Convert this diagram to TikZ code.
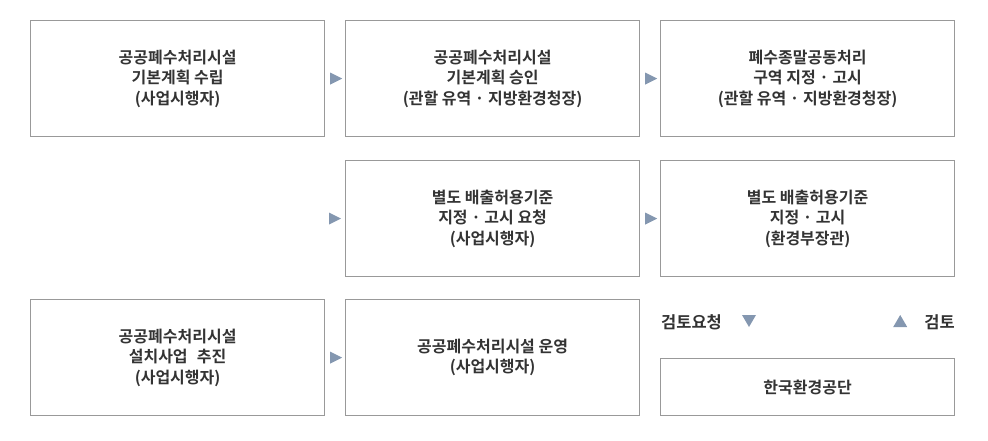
\documentclass[tikz,border=0pt]{standalone}
\usepackage{fontspec}
\setmainfont{Noto Sans CJK KR}[BoldFont={Noto Sans CJK KR Bold}]
\usetikzlibrary{calc}
\definecolor{boxline}{HTML}{999999}
\definecolor{txt}{HTML}{333333}
\definecolor{tri}{HTML}{8497B0}
\begin{document}
\begin{tikzpicture}[x=1pt,y=-1pt,
  box/.style={draw=boxline,line width=1.2pt,minimum width=294pt,minimum height=116pt,inner sep=0pt,
    text=txt,font=\fontsize{16}{20.5}\selectfont\bfseries,align=center,anchor=north west},
  lbl/.style={text=txt,font=\fontsize{16.5}{20.5}\selectfont\bfseries,inner sep=0pt},
  tri/.style={fill=tri,draw=none}]
\useasboundingbox (0,0) rectangle (988,441);
\node[box] (a1) at (30,20) {공공폐수처리시설\\기본계획 수립\\(사업시행자)};
\node[box] (a2) at (345,20) {공공폐수처리시설\\기본계획 승인\\(관할 유역 · 지방환경청장)};
\node[box] (a3) at (660,20) {폐수종말공동처리\\구역 지정 · 고시\\(관할 유역 · 지방환경청장)};
\node[box] (b2) at (345,160) {별도 배출허용기준\\지정 · 고시 요청\\(사업시행자)};
\node[box] (b3) at (660,160) {별도 배출허용기준\\지정 · 고시\\(환경부장관)};
\node[box] (c1) at (30,299) {공공폐수처리시설\\설치사업\hspace{0.35em} 추진\\(사업시행자)};
\node[box] (c2) at (345,299) {공공폐수처리시설 운영\\(사업시행자)};
\node[box,minimum height=57pt] (k) at (660,358) {한국환경공단};
\node[lbl,anchor=west] (req) at (661,322) {검토요청};
\node[lbl,anchor=east] (rev) at (955,322) {검토};
% right-pointing triangles
\fill[tri] ($(a1.east)+(5,-6)$) -- ($(a1.east)+(17,0)$) -- ($(a1.east)+(5,6)$) -- cycle;
\fill[tri] ($(a2.east)+(5,-6)$) -- ($(a2.east)+(17,0)$) -- ($(a2.east)+(5,6)$) -- cycle;
\fill[tri] ($(b2.west)+(-16,-6)$) -- ($(b2.west)+(-4,0)$) -- ($(b2.west)+(-16,6)$) -- cycle;
\fill[tri] ($(b2.east)+(5,-6)$) -- ($(b2.east)+(17,0)$) -- ($(b2.east)+(5,6)$) -- cycle;
\fill[tri] ($(c1.east)+(5,-6)$) -- ($(c1.east)+(17,0)$) -- ($(c1.east)+(5,6)$) -- cycle;
% down / up triangles
\fill[tri] ($(k.north west)+(82,-43)$) -- ($(k.north west)+(96,-43)$) -- ($(k.north west)+(89,-31)$) -- cycle;
\fill[tri] ($(k.north east)+(-62,-31)$) -- ($(k.north east)+(-48,-31)$) -- ($(k.north east)+(-55,-43)$) -- cycle;
\end{tikzpicture}
\end{document}
